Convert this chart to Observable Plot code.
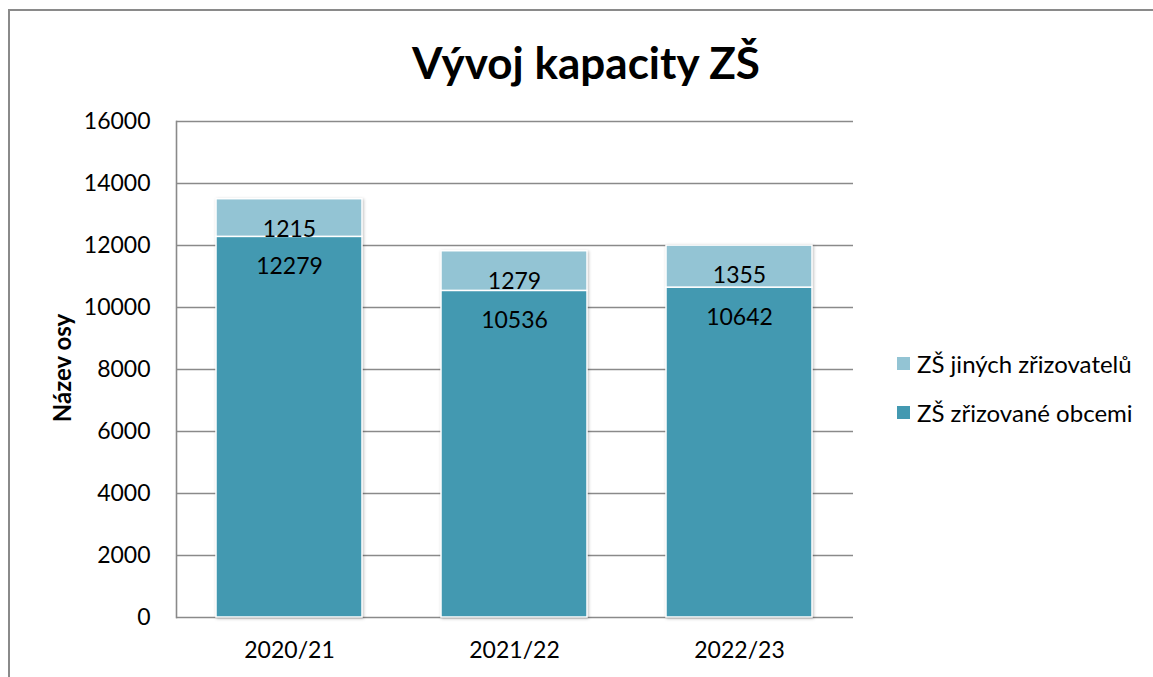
<!DOCTYPE html>
<html>
<head>
<meta charset="utf-8">
<script src="https://cdn.jsdelivr.net/npm/d3@7"></script>
<script src="https://cdn.jsdelivr.net/npm/@observablehq/plot@0.6"></script>
<style>
  html, body { margin: 0; padding: 0; background: #fff; overflow: hidden; }
  body { width: 1153px; height: 677px; position: relative; font-family: Lato, "Open Sans", sans-serif; }
  #frame { position: absolute; left: 8px; top: 9px; width: 1200px; height: 720px; border: 2px solid #8a8a8a; box-sizing: border-box; }
  #chart { position: absolute; left: 0; top: 0; }
  #title { position: absolute; left: 0; width: 1172px; top: 36px; text-align: center; font-weight: 700; font-size: 44px; line-height: 1.2; color: #000; }
  #ylabel { position: absolute; left: 61px; top: 368px; transform: translate(-50%, -50%) rotate(-90deg); font-weight: 700; font-size: 24px; white-space: nowrap; }
  #legend { position: absolute; left: 897px; top: 339px; font-size: 24px; }
  .item { display: flex; align-items: center; height: 49px; line-height: 1; }
  .sw { width: 13px; height: 13px; margin-right: 7px; }
  svg g[aria-label="bar"] { filter: drop-shadow(1px 1px 1.5px rgba(0,0,0,0.25)); }
</style>
</head>
<body>
<div id="frame"></div>
<div id="chart"></div>
<div id="title">Vývoj kapacity ZŠ</div>
<div id="ylabel">Název osy</div>
<div id="legend"></div>
<script>
const categories = ["2020/21", "2021/22", "2022/23"];
const seriesNames = ["ZŠ zřizované obcemi", "ZŠ jiných zřizovatelů"];
const obcemi = [12279, 10536, 10642];
const jinych = [1215, 1279, 1355];
const yTicks = [0, 2000, 4000, 6000, 8000, 10000, 12000, 14000, 16000];
const colors = {"ZŠ zřizované obcemi": "#4399b1", "ZŠ jiných zřizovatelů": "#93c4d4"};

const data = [];
categories.forEach((c, i) => {
  data.push({year: c, series: seriesNames[0], value: obcemi[i]});
  data.push({year: c, series: seriesNames[1], value: jinych[i]});
});

const chart = Plot.plot({
  width: 1153,
  height: 677,
  marginLeft: 176,
  marginRight: 300,
  marginTop: 121,
  marginBottom: 60,
  style: {fontFamily: "Lato, 'Open Sans', sans-serif", fontSize: "23px", color: "#000", background: "transparent"},
  x: {domain: categories, paddingInner: 0.35, paddingOuter: 0.175, label: null, tickSize: 0, tickPadding: 24},
  y: {domain: [0, 16000], ticks: yTicks, label: null, tickSize: 0, tickPadding: 26, tickFormat: d => String(d)},
  color: {domain: seriesNames, range: seriesNames.map(s => colors[s])},
  marks: [
    Plot.ruleY(yTicks, {stroke: "#8a8a8a", strokeWidth: 1.6}),
    Plot.frame({anchor: "left", stroke: "#8a8a8a", strokeWidth: 1.6}),
    Plot.barY(data, {x: "year", y: "value", z: "series", fill: "series", stroke: "white", strokeWidth: 1.5, order: seriesNames}),
    Plot.text(data, Plot.stackY2({x: "year", y: "value", z: "series", order: seriesNames, text: d => String(d.value), dy: 30, fontSize: 23, fill: "#000"}))
  ]
});
document.getElementById("chart").appendChild(chart);

const legend = document.getElementById("legend");
[seriesNames[1], seriesNames[0]].forEach(s => {
  const it = document.createElement("div");
  it.className = "item";
  const sw = document.createElement("div");
  sw.className = "sw";
  sw.style.background = colors[s];
  const tx = document.createElement("span");
  tx.textContent = s;
  it.appendChild(sw);
  it.appendChild(tx);
  legend.appendChild(it);
});
</script>
</body>
</html>
